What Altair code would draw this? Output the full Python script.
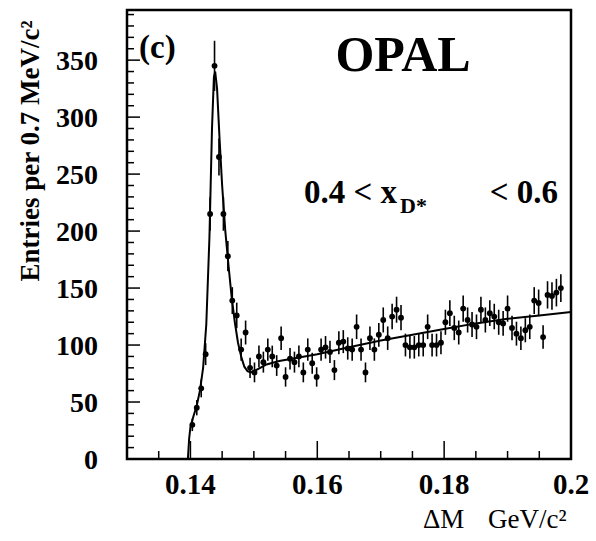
import altair as alt
import pandas as pd

# ---------------- data ----------------
bin_x = [0.1403, 0.1410, 0.1417, 0.1424, 0.1431, 0.1438, 0.1445, 0.1452, 0.1459, 0.1466,
         0.1473, 0.1480, 0.1487, 0.1494, 0.1501, 0.1508, 0.1515, 0.1522, 0.1529, 0.1536,
         0.1543, 0.1550, 0.1557, 0.1564, 0.1571, 0.1578, 0.1585, 0.1592, 0.1599, 0.1606,
         0.1613, 0.1620, 0.1627, 0.1634, 0.1641, 0.1648, 0.1655, 0.1662, 0.1669, 0.1676,
         0.1683, 0.1690, 0.1697, 0.1704, 0.1711, 0.1718, 0.1725, 0.1732, 0.1739, 0.1746,
         0.1753, 0.1760, 0.1767, 0.1774, 0.1781, 0.1788, 0.1795, 0.1802, 0.1809, 0.1816,
         0.1823, 0.1830, 0.1837, 0.1844, 0.1851, 0.1858, 0.1865, 0.1872, 0.1879, 0.1886,
         0.1893, 0.1900, 0.1907, 0.1914, 0.1921, 0.1928, 0.1935, 0.1942, 0.1949, 0.1956,
         0.1963, 0.1970, 0.1977, 0.1984]
counts = [30, 45, 62, 92, 215, 345, 265, 215, 178, 139,
          126, 96, 111, 80, 76, 90, 85, 96, 90, 82,
          106, 72, 88, 85, 90, 76, 96, 84, 72, 96,
          98, 94, 78, 102, 103, 97, 96, 116, 96, 76,
          106, 96, 109, 122, 106, 125, 131, 124, 100, 98,
          98, 100, 100, 116, 100, 100, 102, 120, 128, 115,
          111, 132, 122, 118, 116, 131, 122, 128, 125, 120,
          119, 132, 115, 110, 106, 113, 116, 139, 137, 107,
          144, 143, 146, 150]
errors = [5.5, 6.7, 7.9, 9.6, 14.7, 22.0, 16.3, 14.7, 13.3, 11.8,
          11.2, 9.8, 10.5, 8.9, 8.7, 9.5, 9.2, 9.8, 9.5, 9.1,
          10.3, 8.5, 9.4, 9.2, 9.5, 8.7, 9.8, 9.2, 8.5, 9.8,
          9.9, 9.7, 8.8, 10.1, 10.1, 9.8, 9.8, 10.8, 9.8, 8.7,
          10.3, 9.8, 10.4, 11.0, 10.3, 11.2, 11.4, 11.1, 10.0, 9.9,
          9.9, 10.0, 10.0, 10.8, 10.0, 10.0, 10.1, 11.0, 11.3, 10.7,
          10.5, 11.5, 11.0, 10.9, 10.8, 11.4, 11.0, 11.3, 11.2, 11.0,
          10.9, 11.5, 10.7, 10.5, 10.3, 10.6, 10.8, 11.8, 11.7, 10.3,
          12.0, 12.0, 12.1, 12.2]

fit_x = [0.1396, 0.1398, 0.1400, 0.1405, 0.1410, 0.1415, 0.1420, 0.1425, 0.1430, 0.1434,
         0.1437, 0.1439, 0.1442, 0.1446, 0.1450, 0.1455, 0.1460, 0.1465, 0.1470, 0.1475,
         0.1480, 0.1485, 0.1490, 0.1495, 0.1500, 0.1510, 0.1520, 0.1540, 0.1560, 0.1580,
         0.1600, 0.1650, 0.1700, 0.1750, 0.1800, 0.1850, 0.1900, 0.1950, 0.2000]
fit_y = [0, 18, 28, 38, 47, 60, 80, 118, 195, 290,
         335, 340, 325, 280, 240, 200, 170, 142, 120, 102,
         90, 81, 77, 76, 77, 80, 83, 86, 88, 90,
         92, 98, 104, 109, 114, 119, 123, 126, 129]

x_major = [0.14, 0.16, 0.18, 0.2]
x_labels = ["0.14", "0.16", "0.18", "0.2"]
x_minor = [0.13, 0.135, 0.145, 0.15, 0.155, 0.165, 0.17, 0.175, 0.185, 0.19, 0.195]
y_major = [0, 50, 100, 150, 200, 250, 300, 350]
y_labels = ["0", "50", "100", "150", "200", "250", "300", "350"]
y_minor = [10, 20, 30, 40, 60, 70, 80, 90, 110, 120, 130, 140, 160, 170, 180, 190,
           210, 220, 230, 240, 260, 270, 280, 290, 310, 320, 330, 340, 360, 370, 380, 390]

# ---------------- layout ----------------
W, H = 444, 449
FONT = "Liberation Serif"
XDOM = [0.13, 0.2]
YDOM = [0, 394]

xs = alt.Scale(domain=XDOM, nice=False, zero=False)
ys = alt.Scale(domain=YDOM, nice=False, zero=False)

pts = pd.DataFrame({"x": bin_x, "n": counts, "e": errors})
pts["lo"] = pts["n"] - pts["e"]
pts["hi"] = pts["n"] + pts["e"]
fit = pd.DataFrame({"x": fit_x, "y": fit_y})

bars = alt.Chart(pts).mark_rule(color="black", strokeWidth=1.6).encode(
    x=alt.X("x:Q", scale=xs, axis=None),
    y=alt.Y("lo:Q", scale=ys, axis=None),
    y2="hi:Q",
)
dots = alt.Chart(pts).mark_circle(color="black", size=34, opacity=1).encode(
    x=alt.X("x:Q", scale=xs, axis=None),
    y=alt.Y("n:Q", scale=ys, axis=None),
)
curve = alt.Chart(fit).mark_line(color="black", strokeWidth=2).encode(
    x=alt.X("x:Q", scale=xs, axis=None),
    y=alt.Y("y:Q", scale=ys, axis=None),
)

def xticks(vals, length):
    return alt.Chart(pd.DataFrame({"x": vals})).mark_rule(color="black", strokeWidth=1.5).encode(
        x=alt.X("x:Q", scale=xs, axis=None), y=alt.value(H), y2=alt.value(H - length))

def yticks(vals, length):
    return alt.Chart(pd.DataFrame({"y": vals})).mark_rule(color="black", strokeWidth=1.5).encode(
        y=alt.Y("y:Q", scale=ys, axis=None), x=alt.value(0), x2=alt.value(length))

xlab = alt.Chart(pd.DataFrame({"x": x_major, "t": x_labels})).mark_text(
    font=FONT, fontSize=29, fontWeight="bold", color="black", align="center", baseline="top"
).encode(x=alt.X("x:Q", scale=xs, axis=None), y=alt.value(H + 12), text="t:N")

ylab = alt.Chart(pd.DataFrame({"y": y_major, "t": y_labels})).mark_text(
    font=FONT, fontSize=28, fontWeight="bold", color="black", align="right", baseline="middle", dy=2
).encode(y=alt.Y("y:Q", scale=ys, axis=None), x=alt.value(-29), text="t:N")

one = pd.DataFrame({"a": [0]})

def label(text, x, y, size, weight="bold", align="left", angle=0, baseline="alphabetic"):
    kw = dict(text=text, font=FONT, fontSize=size, fontWeight=weight, color="black",
              align=align, baseline=baseline)
    if angle:
        kw["angle"] = angle
    return alt.Chart(one).mark_text(**kw).encode(x=alt.value(x), y=alt.value(y))

texts = [
    label("(c)", 12, 48, 33),
    label("OPAL", 276, 61, 50, align="center"),
    label("0.4 < x", 177, 193, 33),
    label("D*", 273, 203, 22),
    label("< 0.6", 431, 193, 33, align="right"),
    label("Entries per 0.7 MeV/c²", -88, 141, 27, angle=270, align="center"),
    label("ΔM", 296, 518, 27, weight="normal"),
    label("GeV/c²", 361, 518, 27, weight="normal"),
]

chart = alt.layer(
    bars, dots, curve,
    xticks(x_major, 18), xticks(x_minor, 8),
    yticks(y_major, 13), yticks(y_minor, 7),
    xlab, ylab,
    *texts,
).properties(
    width=W, height=H,
    autosize=alt.AutoSizeParams(type="none"),
    padding={"left": 127, "top": 10, "right": 25, "bottom": 82},
    background="white",
).configure_view(stroke="black", strokeWidth=2.5)

chart.save("out.html", embed_options={"renderer": "svg", "actions": False})
